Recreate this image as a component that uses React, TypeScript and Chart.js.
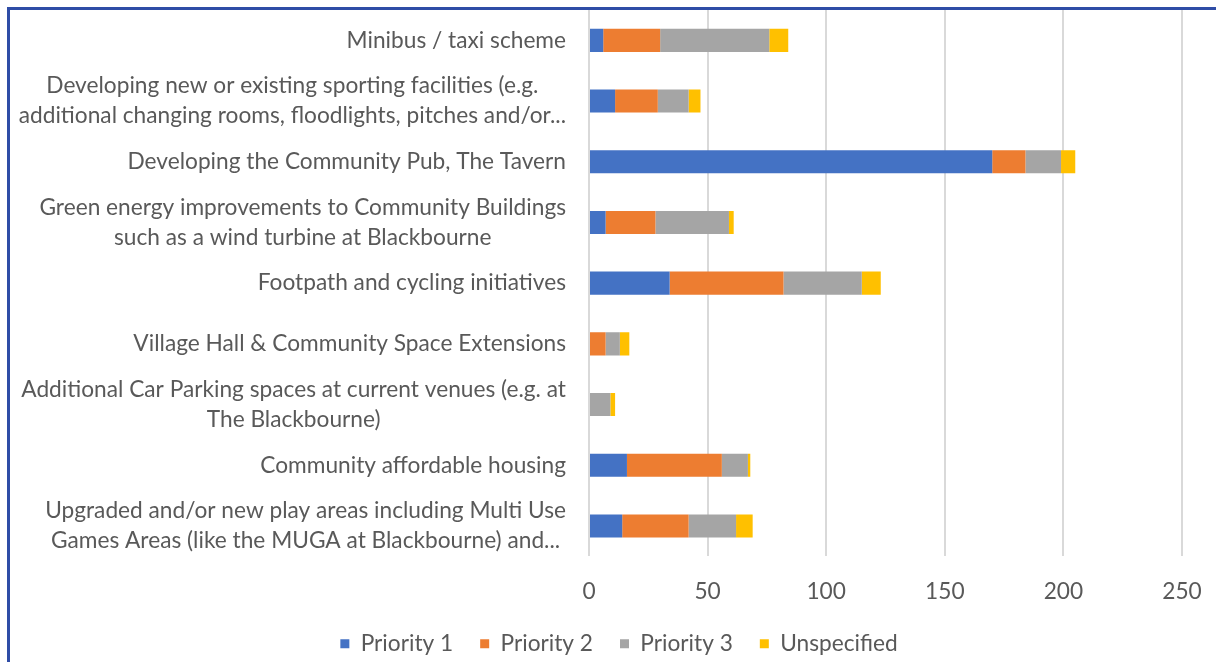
import React, { useEffect, useRef } from "react";
import { Chart, registerables } from "chart.js";

Chart.register(...registerables);

const categories: (string | string[])[] = [
  "Minibus / taxi scheme",
  ["Developing new or existing sporting facilities (e.g.", "additional changing rooms, floodlights, pitches and/or..."],
  "Developing the Community Pub, The Tavern",
  ["Green energy improvements to Community Buildings", "such as a wind turbine at Blackbourne"],
  "Footpath and cycling initiatives",
  "Village Hall & Community Space Extensions",
  ["Additional Car Parking spaces at current venues (e.g. at", "The Blackbourne)"],
  "Community affordable housing",
  ["Upgraded and/or new play areas including Multi Use", "Games Areas (like the MUGA at Blackbourne) and..."],
];

const priority1 = [6, 11, 170, 7, 34, 0, 0, 16, 14];
const priority2 = [24, 18, 14, 21, 48, 7, 0, 40, 28];
const priority3 = [46, 13, 15, 31, 33, 6, 9, 11, 20];
const unspecified = [8, 5, 6, 2, 8, 4, 2, 1, 7];

const seriesNames = ["Priority 1", "Priority 2", "Priority 3", "Unspecified"];
const seriesColors = ["#4472C4", "#ED7D31", "#A5A5A5", "#FFC000"];
const xTicks = [0, 50, 100, 150, 200, 250];

const FONT = "Lato";
const FSIZE = 22.7;
const TEXT = "#595959";

const centeredYLabels = {
  id: "centeredYLabels",
  afterDraw(chart: any) {
    const scale = chart.scales.y;
    const ctx = chart.ctx;
    ctx.save();
    ctx.font = `${FSIZE}px ${FONT}`;
    ctx.fillStyle = TEXT;
    ctx.textAlign = "center";
    ctx.textBaseline = "middle";
    const lineH = 30;
    const right = scale.right - 23;
    categories.forEach((lab, i) => {
      const lines = Array.isArray(lab) ? lab : [lab];
      const w = Math.max(...lines.map((l) => ctx.measureText(l).width));
      const cx = right - w / 2;
      const cy = scale.getPixelForValue(i);
      const y0 = cy - ((lines.length - 1) * lineH) / 2;
      lines.forEach((l, k) => ctx.fillText(l, cx, y0 + k * lineH));
    });
    ctx.restore();
  },
};

const shiftLegend = {
  id: "shiftLegend",
  afterLayout(chart: any) {
    if (chart.legend) {
      chart.legend.left += 23;
      chart.legend.right += 23;
    }
  },
};

export default function App() {
  const ref = useRef<HTMLCanvasElement>(null);
  useEffect(() => {
    const data = [priority1, priority2, priority3, unspecified];
    const chart = new Chart(ref.current as HTMLCanvasElement, {
      type: "bar",
      data: {
        labels: categories,
        datasets: data.map((d, i) => ({
          label: seriesNames[i],
          data: d,
          backgroundColor: seriesColors[i],
          borderWidth: 0,
          categoryPercentage: 1,
          barPercentage: 0.38,
        })),
      },
      plugins: [centeredYLabels, shiftLegend],
      options: {
        animation: false,
        responsive: true,
        maintainAspectRatio: false,
        indexAxis: "y",
        layout: { padding: { left: 0, right: 34, top: 0, bottom: -3 } },
        plugins: {
          tooltip: { enabled: false },
          legend: {
            position: "bottom",
            labels: {
              boxWidth: 9,
              boxHeight: 9,
              padding: 27,
              color: TEXT,
              font: { family: FONT, size: FSIZE },
            },
          },
        },
        scales: {
          x: {
            stacked: true,
            min: 0,
            max: 250,
            afterBuildTicks: (s: any) => {
              s.ticks = xTicks.map((v) => ({ value: v }));
            },
            afterFit: (s: any) => {
              s.height = 49;
              s.paddingLeft = 0;
              s.paddingRight = 0;
            },
            grid: { color: "#D9D9D9", lineWidth: 2, drawTicks: false },
            border: { display: false },
            ticks: {
              color: TEXT,
              padding: 22,
              font: { family: FONT, size: FSIZE },
            },
          },
          y: {
            stacked: true,
            grid: { display: false, drawTicks: false },
            border: { display: false },
            afterFit: (s: any) => {
              s.width = 579;
              s.paddingTop = 0;
              s.paddingBottom = 0;
            },
            ticks: {
              autoSkip: false,
              color: "rgba(0,0,0,0)",
              padding: 23,
              font: { family: FONT, size: FSIZE },
            },
          },
        },
      },
    });
    return () => chart.destroy();
  }, []);

  return (
    <div
      style={{
        position: "fixed",
        left: 7,
        top: 7,
        width: 1209,
        height: 655,
        overflow: "hidden",
        background: "#fff",
      }}
    >
      <div
        style={{
          position: "absolute",
          left: 0,
          top: 0,
          width: 1400,
          height: 900,
          borderTop: "3px solid #2F4DA6",
          borderLeft: "3px solid #2F4DA6",
          boxSizing: "border-box",
        }}
      />
      <div style={{ position: "absolute", left: 3, top: 3, width: 1206, height: 652 }}>
        <canvas ref={ref} />
      </div>
    </div>
  );
}
